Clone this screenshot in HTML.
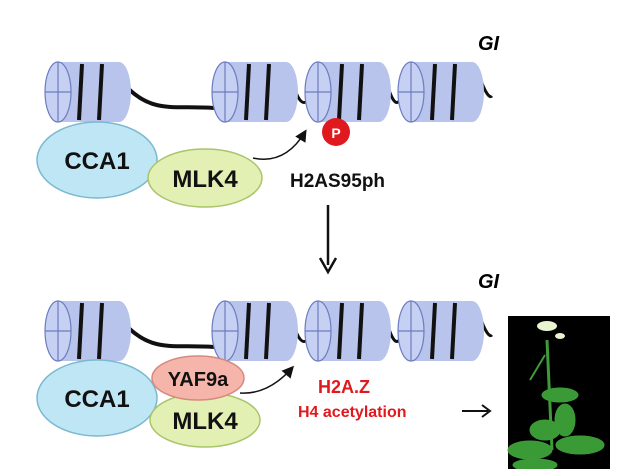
<!DOCTYPE html>
<html><head><style>body{margin:0;background:#fff}svg{display:block}</style></head><body>
<svg width="620" height="469" viewBox="0 0 620 469" font-family="Liberation Sans, sans-serif">
<defs>
<marker id="ah" markerWidth="8" markerHeight="8" refX="6" refY="4" orient="auto"><path d="M0,0 L8,4 L0,8 z" fill="#111"/></marker>
<g id="nuc">
<rect x="12" y="0" width="62" height="60" fill="#b8c4ec"/>
<ellipse cx="74" cy="30" rx="12" ry="30" fill="#b8c4ec"/>
<ellipse cx="13" cy="30" rx="13" ry="30" fill="#c6d0f2" stroke="#6c7cc0" stroke-width="1.2"/>
<line x1="13" y1="0" x2="13" y2="60" stroke="#6c7cc0" stroke-width="1.2"/>
<line x1="0" y1="30" x2="26" y2="30" stroke="#6c7cc0" stroke-width="1.2"/>
<line x1="37" y1="2" x2="34" y2="58" stroke="#111" stroke-width="4"/>
<line x1="57" y1="2" x2="54" y2="58" stroke="#111" stroke-width="4"/>
</g>
</defs>
<g id="row1">
<path d="M120,80 C150,115 170,105 214,108" stroke="#111" stroke-width="4" fill="none"/>
<path d="M292,80 Q300,110 308,100" stroke="#111" stroke-width="3" fill="none"/>
<path d="M386,80 Q394,110 400,100" stroke="#111" stroke-width="3" fill="none"/>
<path d="M480,78 Q488,100 492,96" stroke="#111" stroke-width="3" fill="none"/>
<use href="#nuc" x="45" y="62"/>
<use href="#nuc" x="212" y="62"/>
<use href="#nuc" x="305" y="62"/>
<use href="#nuc" x="398" y="62"/>
</g>
<use href="#row1" y="239"/>
<text x="478" y="50" font-size="20" font-weight="bold" font-style="italic">GI</text>
<text x="478" y="288" font-size="20" font-weight="bold" font-style="italic">GI</text>
<ellipse cx="97" cy="160" rx="60" ry="38" fill="#bfe6f4" stroke="#7ab8cf" stroke-width="1.5"/>
<text x="97" y="169" font-size="24" font-weight="bold" text-anchor="middle" fill="#111">CCA1</text>
<ellipse cx="205" cy="178" rx="57" ry="29" fill="#e2f0b4" stroke="#a9c46a" stroke-width="1.5"/>
<text x="205" y="187" font-size="24" font-weight="bold" text-anchor="middle" fill="#111">MLK4</text>
<path d="M253,158 Q285,165 305,132" stroke="#111" stroke-width="1.5" fill="none" marker-end="url(#ah)"/>
<circle cx="336" cy="132" r="14" fill="#e0191e"/>
<text x="336" y="138" font-size="14" font-weight="bold" text-anchor="middle" fill="#fff">P</text>
<text x="290" y="187" font-size="19" font-weight="bold" fill="#111">H2AS95ph</text>
<line x1="328" y1="205" x2="328" y2="265" stroke="#111" stroke-width="2.5"/>
<path d="M320,258 L328,272 L336,258" stroke="#111" stroke-width="2.5" fill="none"/>
<ellipse cx="97" cy="398" rx="60" ry="38" fill="#bfe6f4" stroke="#7ab8cf" stroke-width="1.5"/>
<text x="97" y="407" font-size="24" font-weight="bold" text-anchor="middle" fill="#111">CCA1</text>
<ellipse cx="205" cy="420" rx="55" ry="27" fill="#e2f0b4" stroke="#a9c46a" stroke-width="1.5"/>
<text x="205" y="429" font-size="24" font-weight="bold" text-anchor="middle" fill="#111">MLK4</text>
<ellipse cx="198" cy="378" rx="46" ry="22" fill="#f6b5ab" stroke="#d58a80" stroke-width="1.5"/>
<text x="198" y="386" font-size="20" font-weight="bold" text-anchor="middle" fill="#111">YAF9a</text>
<path d="M240,393 Q268,395 292,368" stroke="#111" stroke-width="1.5" fill="none" marker-end="url(#ah)"/>
<text x="318" y="393" font-size="18" font-weight="bold" fill="#e0191e">H2A.Z</text>
<text x="298" y="417" font-size="16" font-weight="bold" fill="#e0191e">H4 acetylation</text>
<line x1="462" y1="411" x2="488" y2="411" stroke="#111" stroke-width="2"/>
<path d="M482,405 L490,411 L482,417" stroke="#111" stroke-width="2" fill="none"/>
<rect x="508" y="316" width="102" height="153" fill="#000"/>
<g stroke="#3f9a3a" fill="#3a9a35">
<line x1="547" y1="340" x2="552" y2="450" stroke-width="3"/>
<line x1="545" y1="355" x2="530" y2="380" stroke-width="2"/>
<ellipse cx="560" cy="395" rx="18" ry="7"/>
<ellipse cx="530" cy="450" rx="22" ry="9"/>
<ellipse cx="580" cy="445" rx="24" ry="9"/>
<ellipse cx="545" cy="430" rx="15" ry="10"/>
<ellipse cx="565" cy="420" rx="10" ry="16"/>
<ellipse cx="535" cy="465" rx="22" ry="6"/>
</g>
<ellipse cx="547" cy="326" rx="10" ry="5" fill="#e8f5d0"/>
<ellipse cx="560" cy="336" rx="5" ry="3" fill="#e8f5d0"/>
</svg>
</body></html>
